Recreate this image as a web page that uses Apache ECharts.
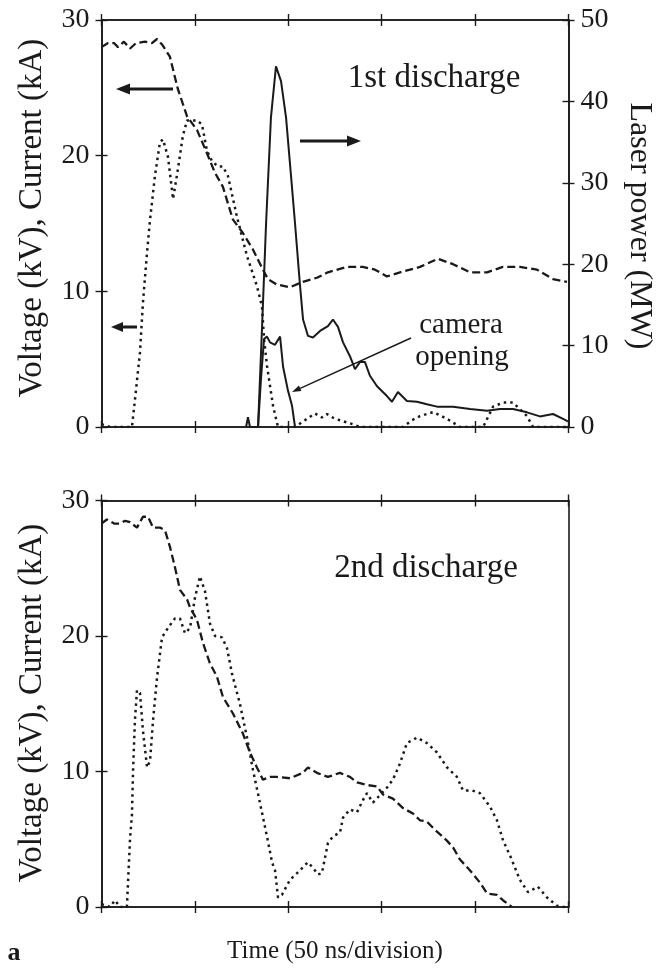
<!DOCTYPE html>
<html><head><meta charset="utf-8">
<script src="https://cdn.jsdelivr.net/npm/echarts@6/dist/echarts.min.js"></script>
<style>html,body{margin:0;padding:0;background:#fff}#c{width:661px;height:973px}</style>
</head><body><div id="c"></div>
<script>
// ---------- data (time in ns, 50 ns/division) ----------
const timeMin = 0, timeMax = 250, timeStep = 50;
const kvTickMax = 30, kvTickStep = 10;
const mwTickMax = 50, mwTickStep = 10;

// 1st discharge: voltage (kV), dashed
const d1VoltT = [0,3.5,6.7,8.8,12.0,15.3,18.5,23.3,27.0,29.7,32.4,36.6,40.9,45.8,51.1,56.4,60.7,65.0,70.3,75.7,81.0,86.4,89.1,93.9,100.9,107.8,115.3,121.2,131.4,139.9,146.4,152.8,159.8,170.5,180.1,188.2,197.3,206.4,214.9,224.0,233.1,241.7,249.2];
const d1VoltV = [28.0,28.3,28.3,28.0,28.4,27.9,28.3,28.4,28.3,28.6,28.2,27.3,24.9,22.9,21.9,20.2,18.75,17.7,15.3,14.3,13.1,11.6,10.9,10.5,10.3,10.7,11.0,11.4,11.8,11.8,11.6,11.1,11.4,11.8,12.4,12.0,11.4,11.4,11.8,11.8,11.6,10.9,10.7];

// 1st discharge: current (kA), dotted
const d1CurT = [0,4.5,9.9,14.2,16.3,17.9,20.6,22.2,24.4,26.0,28.6,31.3,32.9,35.6,38.3,40.9,43.6,45.8,51.1,53.8,56.4,59.1,62.4,65.0,67.7,72.5,77.9,83.2,85.9,87.0,88.6,91.9,94.5,103.6,108.9,114.3,118.0,120.7,125.0,127.7,134.6,138.4,161.4,166.2,170.5,177.5,185.0,192.0,204.3,209.6,215.0,220.3,227.8,231.0,249.7];
const d1CurV = [0.2,0,0,0,0,2.0,5.5,9.2,12.9,15.3,18.5,21.0,21.2,19.9,16.8,19.0,21.5,22.6,22.6,22.3,20.4,19.6,19.2,19.2,18.5,15.5,12.6,10.4,8.9,6.5,4.5,1.5,0,0,0.5,1.0,0.7,0.95,0.6,0.5,0.2,0,0,0.5,0.8,1.1,0.6,0,0,1.5,1.8,1.8,0.8,0,0];

// 1st discharge: laser power (MW), solid
const d1LaserT = [77.4,77.9,78.4,79.5,83.8,85.9,88.1,90.7,93.4,96.1,98.8,101.4,103.6,106.3,107.9,110.5,113.2,117.0,121.2,123.9,126.6,129.3,133.0,135.7,138.4,141.0,143.7,147.5,152.8,155.5,158.7,163.5,168.9,174.2,179.6,188.2,197.3,206.4,213.3,220.3,227.8,234.7,241.7,247.1,249.7];
const d1LaserV = [0,0,1.2,0,0,12,25,38,44.3,42.5,38,31,25,17.3,13.2,11.2,11.0,11.8,12.4,13.2,12.3,10.4,8.7,7.1,8.0,8.0,6.3,5.0,3.8,3.1,4.3,3.2,3.1,2.8,2.5,2.5,2.2,2.0,2.2,2.2,1.8,1.3,1.6,1.0,0.7];

// 1st discharge: camera opening gate (plotted on MW scale), solid
const d1CameraT = [83.8,85.4,87.0,88.6,90.2,92.9,95.6,97.2,99.8,102.0,103.6];
const d1CameraV = [0,6,10.8,11.1,10.4,10.1,11.1,7.4,4.5,2.6,0];

// 2nd discharge: voltage (kV), dashed
const d2VoltT = [0,2.9,6.7,9.9,12.6,15.3,19.0,22.2,24.9,27.6,31.3,34.0,36.6,39.3,42.0,45.8,47.4,51.1,54.3,58.0,61.8,65.0,70.3,75.7,79.5,83.2,86.4,90.2,93.9,100.9,107.8,110.5,115.3,121.2,127.6,133.0,136.8,142.2,147.5,150.7,156.0,161.4,166.7,170.5,174.2,178.5,184.9,188.2,191.9,197.3,202.6,206.4,211.7,214.9,219.7];
const d2VoltV = [28.3,28.6,28.3,28.3,28.5,28.4,28.0,28.8,28.8,28.0,28.0,27.8,26.6,25.1,23.4,22.7,22.1,21.2,19.5,18.0,17.0,15.5,14.3,12.8,11.4,10.3,9.4,9.6,9.6,9.5,9.9,10.3,9.9,9.6,9.9,9.6,9.2,9.0,8.9,8.3,8.0,7.3,6.9,6.4,6.3,5.7,4.9,4.4,3.5,2.7,1.8,1.0,0.9,0.5,0];

// 2nd discharge: current (kA), dotted
const d2CurT = [0,4.5,7.2,9.9,13.6,15.3,16.3,16.9,17.9,19.0,20.6,22.2,24.4,26.0,27.6,29.7,32.4,35.6,39.3,42.0,44.7,47.4,50.0,52.7,55.4,58.1,60.8,64.5,67.2,69.9,74.1,77.9,81.1,84.8,88.6,91.3,92.9,94.5,96.6,100.9,104.7,110.5,113.2,115.9,118.0,121.2,123.9,127.7,129.3,133.0,136.8,140.0,142.1,145.3,148.0,152.8,156.0,159.8,163.5,168.9,174.2,179.6,185.0,190.3,193.5,198.4,202.6,208.0,211.7,215.0,218.7,224.0,228.3,233.6,238.5,243.8,246.5,249.7];
const d2CurV = [0.2,0,0.5,0,0,5.1,6.8,10.1,13.8,16.0,15.8,13.0,10.3,10.8,13.8,16.9,19.9,20.6,21.3,21.3,20.2,20.6,22.8,24.4,23.3,20.9,20.0,19.9,19.1,17.2,15.0,12.5,10.1,7.7,5.2,3.3,2.7,0.7,0.9,2.0,2.5,3.3,2.9,2.4,2.5,4.7,5.2,5.5,6.6,7.2,7.0,7.9,8.4,7.7,8.1,8.8,9.4,10.6,12.1,12.5,12.1,11.4,10.3,9.6,8.6,8.6,8.4,7.4,6.4,4.9,3.8,2.0,1.1,1.5,0.7,0.1,0,0];

// ---------- helpers ----------
const zip = (t, v) => t.map((x, i) => [x, v[i]]);
const FONT = '"Liberation Serif","DejaVu Serif",serif';
const INK = '#1a1a1a';

function xAx(grid, pos, inside) {
  return { type:'value', gridIndex:grid, position:pos, min:timeMin, max:timeMax, interval:timeStep,
    axisLine:{show:true, onZero:false, lineStyle:{color:INK, width:1.6}},
    axisTick:{show:true, inside, length:6, lineStyle:{color:INK, width:1.4}},
    axisLabel:{show:false}, splitLine:{show:false} };
}
function yAx(grid, pos, inside, max, step, labels, ticks) {
  return { type:'value', gridIndex:grid, position:pos, min:0, max, interval:step,
    axisLine:{show:true, onZero:false, lineStyle:{color:INK, width:1.6}},
    axisTick:{show:ticks, inside, length:6, lineStyle:{color:INK, width:1.4}},
    axisLabel:{show:labels, fontFamily:FONT, fontSize:28, color:INK, margin:12},
    splitLine:{show:false} };
}

const xAxes = [
  xAx(0,'bottom',false), xAx(0,'bottom',true), xAx(0,'top',false), xAx(0,'top',true),
  xAx(1,'bottom',false), xAx(1,'bottom',true), xAx(1,'top',false), xAx(1,'top',true)
];
const yAxes = [
  yAx(0,'left',false,kvTickMax,kvTickStep,true,true),   // 0 kV top
  yAx(0,'left',true,kvTickMax,kvTickStep,false,true),
  yAx(0,'right',false,mwTickMax,mwTickStep,true,true),  // 2 MW top
  yAx(0,'right',true,mwTickMax,mwTickStep,false,true),
  yAx(1,'left',false,kvTickMax,kvTickStep,true,true),   // 4 kV bottom
  yAx(1,'left',true,kvTickMax,kvTickStep,false,true),
  yAx(1,'right',false,kvTickMax,kvTickStep,false,false)
];

const dashed = {color:INK, width:2.3, type:[8,4]};
const dotted = {color:INK, width:2.5, type:[2.5,4]};
const solid = {color:INK, width:2, type:'solid'};
function line(name, data, xi, yi, style) {
  return { name, type:'line', data, xAxisIndex:xi, yAxisIndex:yi, showSymbol:false, symbol:'none',
    lineStyle:style, silent:true, animation:false, z:3 };
}

function arrow(x1, y1, x2, y2, w, hl, hw) {
  const dx = x2 - x1, dy = y2 - y1, L = Math.hypot(dx, dy), ux = dx/L, uy = dy/L;
  const bx = x2 - ux*hl, by = y2 - uy*hl, px = -uy, py = ux;
  return [
    {type:'line', shape:{x1, y1, x2:bx, y2:by}, style:{stroke:INK, lineWidth:w}},
    {type:'polygon', shape:{points:[[x2,y2],[bx+px*hw/2,by+py*hw/2],[bx-px*hw/2,by-py*hw/2]]}, style:{fill:INK}}
  ];
}

const txt = (text, x, y, size, extra) => Object.assign({type:'text', x, y,
  style:{text, fontFamily:FONT, fontSize:size, fill:INK, align:'center', verticalAlign:'middle'}}, extra||{});

const graphics = [].concat(
  [txt('1st discharge', 434, 78, 33), txt('2nd discharge', 426, 568, 33),
   txt('camera', 461, 325, 29), txt('opening', 462, 357, 29),
   txt('Voltage (kV), Current (kA)', 32, 218, 33, {rotation:Math.PI/2}),
   txt('Voltage (kV), Current (kA)', 32, 703, 33, {rotation:Math.PI/2}),
   txt('Laser power (MW)', 639, 226, 32, {rotation:-Math.PI/2}),
   txt('Time (50 ns/division)', 335, 951, 25),
   {type:'text', x:14, y:953, style:{text:'a', fontFamily:FONT, fontSize:26, fontWeight:'bold', fill:INK, align:'center', verticalAlign:'middle'}}],
  arrow(173, 89, 116, 89, 3, 14, 11),
  arrow(300, 141, 361, 141, 3, 14, 11),
  arrow(137, 327, 111, 327, 3, 12, 10),
  arrow(411, 338, 292, 392, 1.4, 9, 6)
);

const chart = echarts.init(document.getElementById('c'), null, {renderer:'canvas'});
chart.setOption({
  animation:false,
  backgroundColor:'#fff',
  grid:[
    {left:101.5, top:20, width:467, height:407},
    {left:101.5, top:500.5, width:467, height:406.5}
  ],
  xAxis:xAxes,
  yAxis:yAxes,
  series:[
    line('d1 voltage', zip(d1VoltT, d1VoltV), 0, 0, dashed),
    line('d1 current', zip(d1CurT, d1CurV), 0, 0, dotted),
    line('d1 laser', zip(d1LaserT, d1LaserV), 0, 2, solid),
    line('d1 camera', zip(d1CameraT, d1CameraV), 0, 2, solid),
    line('d2 voltage', zip(d2VoltT, d2VoltV), 4, 4, dashed),
    line('d2 current', zip(d2CurT, d2CurV), 4, 4, dotted)
  ],
  graphic:graphics
});
</script></body></html>
